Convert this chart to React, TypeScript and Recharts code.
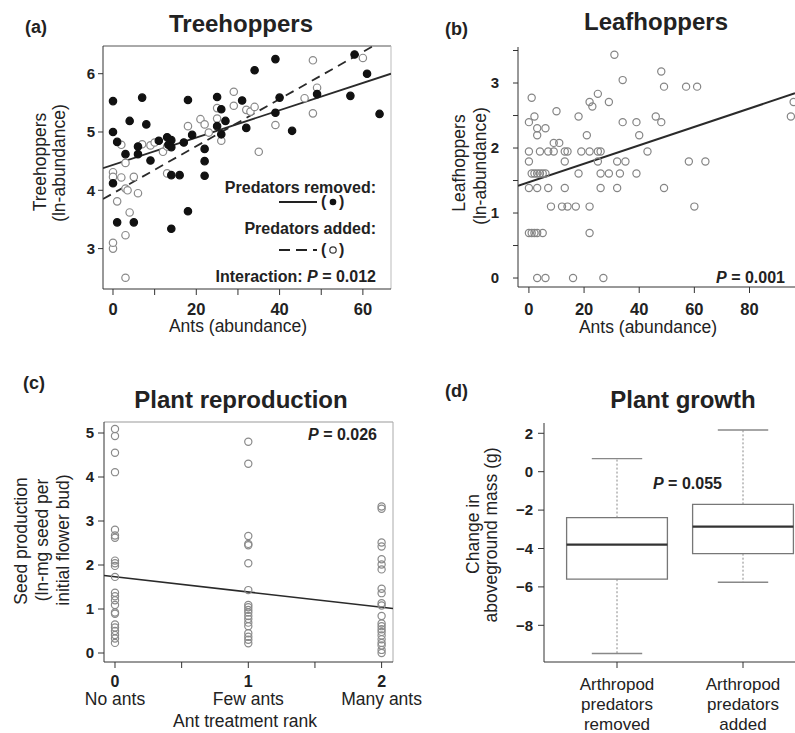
import React from "react";
import { ScatterChart, ComposedChart, Scatter, XAxis, YAxis, ReferenceLine, ReferenceArea } from "recharts";

const FONT = "'Liberation Sans', Arial, Helvetica, sans-serif";

// (a) Treehoppers — [ants, ln-abundance]
const REMOVED = [
  [0, 5.53], [0, 5.0], [0, 4.12], [1, 4.83], [1, 3.45], [3, 4.62], [4, 5.19], [5, 3.45], [6, 4.75], [6, 4.62],
  [7, 5.59], [8, 5.13], [9, 4.51], [11, 4.85], [13, 4.91], [14, 4.86], [13.3, 4.78], [14, 4.74], [14, 4.26], [14, 3.34],
  [16, 4.26], [17, 4.82], [18, 5.55], [18, 3.64], [19, 4.95], [22, 4.71], [22, 4.5], [22, 4.25], [25, 5.6], [25, 5.1],
  [26, 5.39], [26, 4.96], [27, 5.19], [31, 5.54], [32, 5.07], [34, 6.06], [39, 6.25], [39, 5.33], [40, 5.59], [43, 5.02],
  [49, 5.65], [57, 5.62], [58, 6.33], [61, 6.0], [64, 5.31],
];
const ADDED = [
  [0, 3.0], [0, 3.1], [0, 4.31], [0, 4.23], [1, 3.81], [2, 4.78], [2, 4.22], [3, 4.47], [3, 4.03], [3.5, 4.0],
  [4, 3.62], [3, 3.23], [3, 2.5], [5, 4.23], [6, 3.95], [7, 4.79], [9, 4.77], [10, 4.82], [12, 4.66], [13, 4.29],
  [13, 4.75], [18, 5.1], [21, 5.22], [22, 5.13], [23, 4.99], [25, 5.41], [25, 5.23], [26, 4.85], [29, 5.69], [29, 5.45],
  [32, 5.38], [33, 5.35], [34, 5.43], [35, 4.66], [39, 5.12], [46, 5.58], [48, 5.32], [48, 6.23], [49, 5.76], [60, 6.27],
];
const FIT_REMOVED = [[-2.4, 4.38], [66.75, 6.0]];
const FIT_ADDED = [[-2.4, 3.85], [62.5, 6.475]];
const A_X_TICKS = [0, 10, 20, 30, 40, 50, 60];
const A_Y_TICKS = [3, 4, 5, 6];

// (b) Leafhoppers — abundance levels (ln) and the ant counts seen at each level
const LEAF_LEVELS = [0, 0.693, 1.099, 1.386, 1.609, 1.792, 1.946, 2.079, 2.197, 2.303, 2.398, 2.485, 2.565, 2.639, 2.708, 2.773, 2.833, 2.944, 3.045, 3.178, 3.434];
const LEAF_ANTS = [
  [3, 6, 16, 27],
  [0, 1, 2, 3, 5, 22],
  [8, 12, 14, 17, 22, 60],
  [0, 3, 7, 13, 26, 32, 49],
  [1, 2, 3, 4, 5, 6, 18, 26, 29, 33, 39],
  [0, 13, 25, 32, 35, 58, 64],
  [0, 4, 7, 9, 13, 14, 19, 22, 25, 26, 43],
  [9, 11],
  [3, 21, 40],
  [3, 6],
  [0, 34, 39, 48],
  [2, 18, 46, 95],
  [10],
  [23],
  [22, 29, 96],
  [1],
  [25],
  [49, 57, 61],
  [34],
  [48],
  [31],
];
const FIT_LEAF = [[-3.96, 1.42], [96.5, 2.843]];
const B_X_TICKS = [0, 20, 40, 60, 80];
const B_Y_TICKS = [0, 0.5, 1, 1.5, 2, 2.5, 3, 3.5];

// (c) Plant reproduction — seed production per ant rank
const SEED_NONE = [5.09, 4.93, 4.55, 4.11, 2.8, 2.67, 2.62, 2.1, 2.04, 1.98, 1.73, 1.37, 1.29, 1.2, 1.09, 0.92, 0.89, 0.65, 0.58, 0.5, 0.41, 0.33, 0.23];
const SEED_FEW = [4.8, 4.3, 2.66, 2.48, 2.45, 2.04, 1.43, 1.09, 1.04, 0.98, 0.92, 0.84, 0.77, 0.69, 0.61, 0.45, 0.37, 0.3, 0.22];
const SEED_MANY = [3.33, 3.28, 2.51, 2.42, 2.13, 2.01, 1.9, 1.46, 1.36, 1.13, 1.08, 0.84, 0.67, 0.61, 0.54, 0.48, 0.4, 0.31, 0.23, 0.17, 0.07, 0.0];
const RANK_LABELS = ["No ants", "Few ants", "Many ants"];
const FIT_SEED = [[-0.0825, 1.76], [2.0855, 1.01]];
const C_X_TICKS = [0, 0.5, 1, 1.5, 2];
const C_Y_TICKS = [0, 1, 2, 3, 4, 5];

// (d) Plant growth — box summaries
const GROUP_LINES = [["Arthropod", "predators", "removed"], ["Arthropod", "predators", "added"]];
const BOX_UPPER = [0.68, 2.17];
const BOX_Q3 = [-2.39, -1.7];
const BOX_MEDIAN = [-3.8, -2.86];
const BOX_Q1 = [-5.6, -4.27];
const BOX_LOWER = [-9.47, -5.76];
const D_Y_TICKS = [-8, -6, -4, -2, 0, 2];

const toXY = (pts: number[][]) => pts.map(([x, y]) => ({ x, y }));
const leafData = LEAF_LEVELS.flatMap((lv, i) => LEAF_ANTS[i].map((a) => ({ x: a, y: lv })));
const seedData = [SEED_NONE, SEED_FEW, SEED_MANY].flatMap((arr, rank) => arr.map((v) => ({ x: rank, y: v })));
const boxData = BOX_MEDIAN.map((m, i) => ({ x: i + 1, y: m }));
const seg = (f: number[][]) => [{ x: f[0][0], y: f[0][1] }, { x: f[1][0], y: f[1][1] }];

const dot = (fill: string, stroke: string, r: number) => (p: any) =>
  <circle cx={p.cx} cy={p.cy} r={r} fill={fill} stroke={stroke} strokeWidth={1.2} />;

const yTick = { fill: "#222", fontSize: 15, fontWeight: 700, fontFamily: FONT };
const AX = "#333";

// bottom tick label for the two ant-abundance scatters; blank for unlabeled minor ticks
const AntTick = (p: any) => {
  const v = p.payload.value;
  if (v % 20 !== 0) return <g />;
  return (
    <text x={p.x} y={p.y} dy={12} textAnchor="middle" fontFamily={FONT} fontSize={16.5} fontWeight={700} fill="#222">{v}</text>
  );
};

const RankTick = (p: any) => {
  const v = p.payload.value;
  if (!Number.isInteger(v)) return <g />;
  return (
    <g fontFamily={FONT} fill="#222" textAnchor="middle">
      <text x={p.x} y={p.y} dy={17} fontSize={16} fontWeight={700}>{v}</text>
      <text x={p.x} y={p.y} dy={35} fontSize={17.5}>{RANK_LABELS[v]}</text>
    </g>
  );
};

const GroupTick = (p: any) => {
  const lines = GROUP_LINES[p.payload.value - 1];
  if (!lines) return <g />;
  return (
    <g fontFamily={FONT} fill="#222" textAnchor="middle" fontSize={17}>
      {lines.map((l, i) => <text key={i} x={p.x} y={p.y} dy={20 + i * 20}>{l}</text>)}
    </g>
  );
};

const Pval = ({ x, y, anchor, prefix, value }: { x: number; y: number; anchor: "start" | "end"; prefix?: string; value: string }) => (
  <text x={x} y={y} textAnchor={anchor} fontSize={16} fontWeight={700} fill="#222">
    {prefix}<tspan fontStyle="italic">P</tspan> = {value}
  </text>
);

export default function App() {
  const minus = (v: number) => (v < 0 ? "\u2212" + Math.abs(v) : String(v));
  return (
    <div style={{ position: "fixed", left: 0, top: 0, width: 795, height: 733, overflow: "hidden", background: "#fff", fontFamily: FONT }}>
      {/* (a) */}
      <div style={{ position: "absolute", left: 0, top: 0 }}>
        <ScatterChart width={400} height={340} margin={{ top: 46, right: 9, bottom: 21, left: 63 }}>
          <XAxis type="number" dataKey="x" domain={[-2.4, 66.75]} allowDataOverflow ticks={A_X_TICKS} interval={0} minTickGap={-1000} height={30}
            tick={<AntTick />} tickSize={6} tickMargin={8} stroke={AX} />
          <YAxis type="number" dataKey="y" domain={[2.307, 6.475]} allowDataOverflow ticks={A_Y_TICKS} interval={0} width={40}
            tick={yTick} tickSize={5} tickMargin={3} stroke={AX} />
          <ReferenceLine y={6.475} stroke="#555" ifOverflow="visible" />
          <ReferenceLine x={66.75} stroke="#bbb" ifOverflow="visible" />
          <Scatter data={toXY(ADDED)} shape={dot("#fff", "#8a8a8a", 3.7)} isAnimationActive={false} />
          <Scatter data={toXY(REMOVED)} shape={dot("#111", "#111", 3.7)} isAnimationActive={false} />
          <ReferenceLine segment={seg(FIT_REMOVED)} stroke="#2a2a2a" strokeWidth={1.8} ifOverflow="hidden" />
          <ReferenceLine segment={seg(FIT_ADDED)} stroke="#2a2a2a" strokeWidth={1.8} strokeDasharray="9 6" ifOverflow="hidden" />
        </ScatterChart>
      </div>

      {/* (b) */}
      <div style={{ position: "absolute", left: 400, top: 0 }}>
        <ScatterChart width={395} height={340} margin={{ top: 47, right: 0, bottom: 23, left: 78 }}>
          <XAxis type="number" dataKey="x" domain={[-3.96, 96.5]} allowDataOverflow ticks={B_X_TICKS} interval={0} minTickGap={-1000} height={30}
            tick={<AntTick />} tickSize={6} tickMargin={10} stroke={AX} />
          <YAxis type="number" dataKey="y" domain={[-0.138, 3.554]} allowDataOverflow ticks={B_Y_TICKS} interval={0} width={40}
            tick={yTick} tickSize={5} tickMargin={14} stroke={AX} tickFormatter={(v: number) => (Number.isInteger(v) ? String(v) : "")} />
          <Scatter data={leafData} shape={dot("none", "#858585", 3.6)} isAnimationActive={false} />
          <ReferenceLine segment={seg(FIT_LEAF)} stroke="#2a2a2a" strokeWidth={2} ifOverflow="hidden" />
        </ScatterChart>
      </div>

      {/* (c) */}
      <div style={{ position: "absolute", left: 0, top: 360 }}>
        <ScatterChart width={440} height={373} margin={{ top: 62, right: 47, bottom: 11, left: 64 }}>
          <XAxis type="number" dataKey="x" domain={[-0.0825, 2.0855]} allowDataOverflow ticks={C_X_TICKS} interval={0} minTickGap={-1000} height={60}
            tick={<RankTick />} tickSize={6} tickMargin={2} stroke={AX} />
          <YAxis type="number" dataKey="y" domain={[-0.2045, 5.25]} allowDataOverflow ticks={C_Y_TICKS} interval={0} width={40}
            tick={yTick} tickSize={6} tickMargin={4} stroke={AX} />
          <ReferenceLine y={5.25} stroke="#999" ifOverflow="visible" />
          <ReferenceLine x={2.0855} stroke="#aaa" ifOverflow="visible" />
          <Scatter data={seedData} shape={dot("none", "#8a8a8a", 3.6)} isAnimationActive={false} />
          <ReferenceLine segment={seg(FIT_SEED)} stroke="#2a2a2a" strokeWidth={1.6} ifOverflow="hidden" />
        </ScatterChart>
      </div>

      {/* (d) */}
      <div style={{ position: "absolute", left: 400, top: 360 }}>
        <ComposedChart width={405} height={373} margin={{ top: 63, right: 0, bottom: 1, left: 104 }}>
          <XAxis type="number" dataKey="x" domain={[0.4206, 2.492]} allowDataOverflow ticks={[1, 2]} interval={0} height={70}
            tick={<GroupTick />} tickSize={6} tickMargin={2} stroke={AX} />
          <YAxis type="number" dataKey="y" domain={[-9.911, 2.536]} allowDataOverflow ticks={D_Y_TICKS} interval={0} width={40}
            tick={yTick} tickSize={6} tickMargin={5} stroke={AX} tickFormatter={minus} />
          {BOX_MEDIAN.map((_, i) => {
            const c = i + 1;
            return (
              <React.Fragment key={i}>
                <ReferenceLine segment={[{ x: c, y: BOX_Q3[i] }, { x: c, y: BOX_UPPER[i] }]} stroke="#888" strokeDasharray="2 2" />
                <ReferenceLine segment={[{ x: c, y: BOX_Q1[i] }, { x: c, y: BOX_LOWER[i] }]} stroke="#888" strokeDasharray="2 2" />
                <ReferenceLine segment={[{ x: c - 0.2, y: BOX_UPPER[i] }, { x: c + 0.2, y: BOX_UPPER[i] }]} stroke="#888" strokeWidth={1.4} />
                <ReferenceLine segment={[{ x: c - 0.2, y: BOX_LOWER[i] }, { x: c + 0.2, y: BOX_LOWER[i] }]} stroke="#888" strokeWidth={1.4} />
                <ReferenceArea x1={c - 0.4} x2={c + 0.4} y1={BOX_Q1[i]} y2={BOX_Q3[i]} fill="#fff" fillOpacity={1} stroke="#777" strokeWidth={1.3} ifOverflow="visible" />
                <ReferenceLine segment={[{ x: c - 0.4, y: BOX_MEDIAN[i] }, { x: c + 0.4, y: BOX_MEDIAN[i] }]} stroke="#333" strokeWidth={2.2} ifOverflow="visible" />
              </React.Fragment>
            );
          })}
          <Scatter data={boxData} shape={() => <g />} isAnimationActive={false} />
        </ComposedChart>
      </div>

      {/* titles, axis labels, legend */}
      <svg width={795} height={733} style={{ position: "absolute", left: 0, top: 0, pointerEvents: "none" }} fontFamily={FONT}>
        <g fontWeight={700} fill="#222">
          <text x={25} y={33} fontSize={18}>(a)</text>
          <text x={445} y={35} fontSize={18}>(b)</text>
          <text x={23} y={389} fontSize={18}>(c)</text>
          <text x={445} y={397} fontSize={18}>(d)</text>
          <g fontSize={24} textAnchor="middle">
            <text x={241} y={32}>Treehoppers</text>
            <text x={656} y={30}>Leafhoppers</text>
            <text x={241} y={408}>Plant reproduction</text>
            <text x={683} y={408}>Plant growth</text>
          </g>
        </g>

        <g fontSize={17.5} fill="#222" textAnchor="middle">
          <text transform="translate(46,162) rotate(-90)">Treehoppers</text>
          <text transform="translate(65,163) rotate(-90)">(ln-abundance)</text>
          <text x={238} y={332}>Ants (abundance)</text>
          <text transform="translate(465,163) rotate(-90)">Leafhoppers</text>
          <text transform="translate(486,166) rotate(-90)">(ln-abundance)</text>
          <text x={648} y={333}>Ants (abundance)</text>
          <text transform="translate(27,541) rotate(-90)">Seed production</text>
          <text transform="translate(48,540) rotate(-90)">(ln-mg seed per</text>
          <text transform="translate(69,540) rotate(-90)">initial flower bud)</text>
          <text x={245} y={727}>Ant treatment rank</text>
          <text transform="translate(479,534) rotate(-90)">Change in</text>
          <text transform="translate(497,535) rotate(-90)">aboveground mass (g)</text>
        </g>

        <g fontSize={16} fontWeight={700} fill="#222">
          <text x={376} y={193} textAnchor="end">Predators removed:</text>
          <line x1={279} x2={317} y1={202} y2={202} stroke="#222" strokeWidth={2} />
          <text x={321} y={207}>(</text>
          <circle cx={333} cy={202} r={3.3} fill="#111" />
          <text x={339} y={207}>)</text>
          <text x={376} y={234} textAnchor="end">Predators added:</text>
          <line x1={279} x2={317} y1={250} y2={250} stroke="#222" strokeWidth={2} strokeDasharray="11 6" />
          <text x={321} y={255}>(</text>
          <circle cx={333} cy={250} r={3.2} fill="none" stroke="#333" strokeWidth={1.2} />
          <text x={339} y={255}>)</text>
        </g>
        <Pval x={376} y={282} anchor="end" prefix="Interaction: " value="0.012" />
        <Pval x={785} y={283} anchor="end" value="0.001" />
        <Pval x={377} y={440} anchor="end" value="0.026" />
        <Pval x={653} y={489} anchor="start" value="0.055" />
      </svg>
    </div>
  );
}
